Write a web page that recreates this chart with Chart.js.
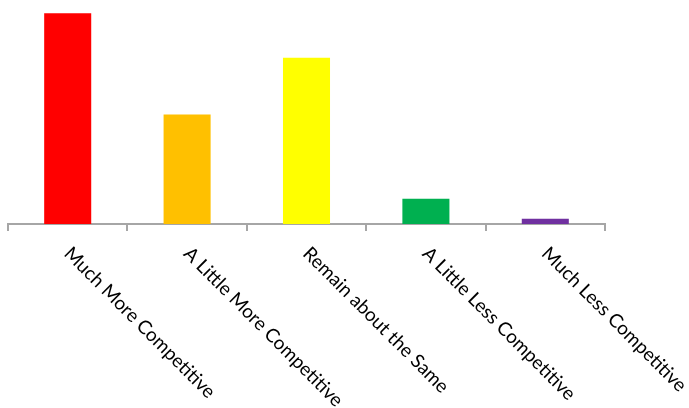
<!DOCTYPE html>
<html>
<head>
<meta charset="utf-8">
<script src="https://cdn.jsdelivr.net/npm/chart.js@4/dist/chart.umd.min.js"></script>
<style>
  html, body { margin: 0; padding: 0; background: #fff; }
  #wrap { width: 689px; height: 408px; }
</style>
</head>
<body>
<div id="wrap"><canvas id="competitionChart" width="689" height="408"></canvas></div>
<script>
// categories and shares (% of respondents)
const categories = [
  "Much More Competitive",
  "A Little More Competitive",
  "Remain about the Same",
  "A Little Less Competitive",
  "Much Less Competitive"
];
const shares = [40.8, 21.2, 32.2, 4.9, 1.0];

const barColors = ["#FF0000", "#FFC000", "#FFFF00", "#00B050", "#7030A0"];
const axisGray = "#A6A6A6";

// labels slant down to the right, starting under each bar
const slantedLabels = {
  id: "slantedLabels",
  afterDraw(chart) {
    const ctx = chart.ctx;
    const x = chart.scales.x;
    const top = chart.chartArea.bottom + 21;
    ctx.save();
    ctx.font = "19px Lato";
    ctx.fillStyle = "#000";
    ctx.textAlign = "left";
    ctx.textBaseline = "alphabetic";
    categories.forEach((label, i) => {
      const px = x.getPixelForValue(i);
      ctx.save();
      ctx.translate(px + 5, top);
      ctx.rotate(Math.PI / 4);
      ctx.fillText(label, 0, 13.7);
      ctx.restore();
    });
    ctx.restore();
  }
};

new Chart(document.getElementById("competitionChart"), {
  type: "bar",
  data: {
    labels: categories,
    datasets: [{
      data: shares,
      backgroundColor: barColors,
      borderWidth: 0,
      categoryPercentage: 1,
      barPercentage: 0.394
    }]
  },
  options: {
    responsive: false,
    animation: false,
    layout: { padding: { left: 8, right: 84, top: 7, bottom: 177 } },
    plugins: {
      legend: { display: false },
      tooltip: { enabled: false }
    },
    scales: {
      y: { display: false, min: 0, max: 42 },
      x: {
        offset: true,
        grid: {
          offset: true,
          drawOnChartArea: false,
          drawTicks: true,
          tickLength: 7,
          color: axisGray,
          lineWidth: 2
        },
        border: { color: axisGray, width: 2 },
        ticks: { display: false }
      }
    }
  },
  plugins: [slantedLabels]
});
</script>
</body>
</html>
